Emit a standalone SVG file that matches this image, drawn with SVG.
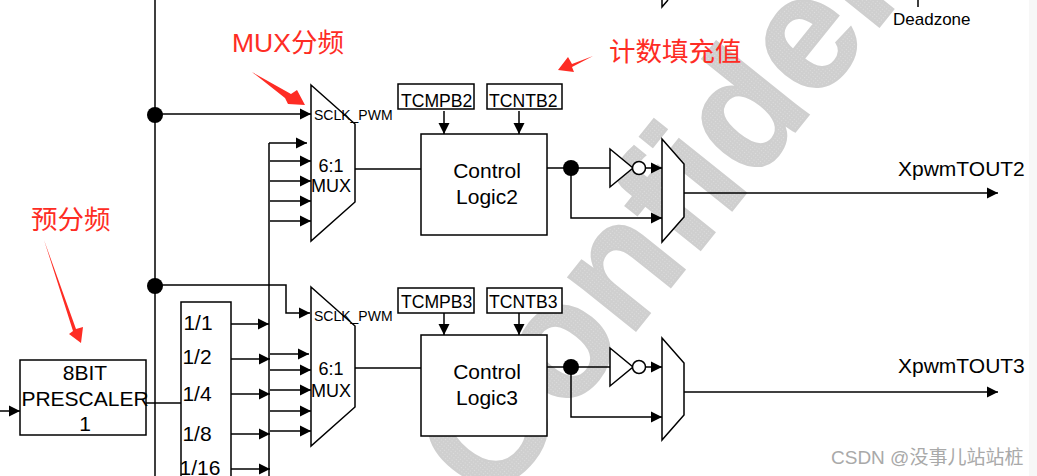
<svg xmlns="http://www.w3.org/2000/svg" width="1037" height="476" viewBox="0 0 1037 476">
<style>
text{font-family:"Liberation Sans","Noto Sans CJK SC",sans-serif;fill:#000}
.b{fill:#fff;stroke:#000;stroke-width:1.5}
.l{fill:none;stroke:#000;stroke-width:1.5}
.a{marker-end:url(#h)}
.d{fill:#000}
.m{font-size:21px;text-anchor:middle}
.s{font-size:17.6px}
.c{font-size:14px}
.r{fill:#fe2c24}
.rt{fill:#fe2c24;font-size:26.5px}
</style>
<defs>
<marker id="h" markerUnits="userSpaceOnUse" markerWidth="12" markerHeight="12" refX="11" refY="6" orient="auto"><path d="M0,0.5 L11,6 L0,11.5 Z" fill="#000"/></marker>
<pattern id="dither" patternUnits="userSpaceOnUse" width="3" height="3"><rect width="3" height="3" fill="#cfcfcf"/><rect width="1" height="1" fill="#dedede"/></pattern>
</defs>
<rect width="1037" height="476" fill="#fff"/>
<rect x="1029" y="0" width="8" height="476" fill="#f7f7f7"/>
<text id="watermark" transform="translate(493,509) rotate(-51.3)" style="font-size:163px;font-weight:bold;fill:url(#dither);stroke:#cfcfcf;stroke-width:2">Confidential</text>
<g id="connectors">
<path class="l" d="M155,0V476M269,143V476"/>
<path class="l a" d="M155,114H311"/>
<path class="l a" d="M269,143H307"/>
<path class="l a" d="M270,161H311"/>
<path class="l a" d="M270,181H311"/>
<path class="l a" d="M270,201H311"/>
<path class="l a" d="M270,221H311"/>
<path class="l a" d="M155,285H286V313H310"/>
<path class="l a" d="M270,354H309"/>
<path class="l a" d="M270,370H311"/>
<path class="l a" d="M270,390H311"/>
<path class="l a" d="M270,411H311"/>
<path class="l a" d="M270,431H311"/>
<path class="l a" d="M231,324H269"/>
<path class="l a" d="M231,359H270"/>
<path class="l a" d="M231,394H270"/>
<path class="l a" d="M231,434H270"/>
<path class="l a" d="M231,469H270"/>
<path class="l a" d="M0,411H20"/>
<path class="l" d="M146,403H181"/>
<path class="l" d="M355,169H421M355,368H421"/>
<path class="l a" d="M444,111V134"/>
<path class="l a" d="M519,111V134"/>
<path class="l a" d="M444,313V335"/>
<path class="l a" d="M519,313V335"/>
<path class="l" d="M547,168H610M547,367H610"/>
<path class="l a" d="M645,168H662"/>
<path class="l a" d="M645,367H662"/>
<path class="l a" d="M571,168V218H662"/>
<path class="l a" d="M571,367V417H662"/>
<path class="l a" d="M684,193H998"/>
<path class="l a" d="M684,392H998"/>
<path class="l" d="M918,0V7M662,0V7L668,0"/>
<circle class="d" cx="155" cy="115" r="8"/>
<circle class="d" cx="155" cy="286" r="8"/>
<circle class="d" cx="571" cy="168" r="8"/>
<circle class="d" cx="571" cy="367" r="8"/>
</g>
<g id="prescaler"><rect class="b" x="20" y="360" width="126" height="75"/><text class="m" x="85" y="380">8BIT</text><text class="m" x="85" y="406">PRESCALER</text><text class="m" x="85" y="431">1</text></g>
<g id="divider"><path class="b" d="M181,476V302H231V476"/><text class="m" x="198" y="330">1/1</text><text class="m" x="197" y="364">1/2</text><text class="m" x="197" y="401">1/4</text><text class="m" x="197" y="441">1/8</text><text class="m" x="200" y="475">1/16</text></g>
<g id="mux2"><path class="b" d="M311,85L355,124V202L311,241Z"/><text class="c" x="314" y="120">SCLK_PWM</text><text class="m" x="331" y="172" style="font-size:18px">6:1</text><text class="m" x="331" y="192" style="font-size:18px">MUX</text></g>
<g id="mux3"><path class="b" d="M311,287L355,326V407L311,446Z"/><text class="c" x="314" y="321">SCLK_PWM</text><text class="m" x="331" y="375" style="font-size:18px">6:1</text><text class="m" x="331" y="397" style="font-size:18px">MUX</text></g>
<g id="tcmpb2"><rect class="b" x="398" y="84" width="76" height="25"/><text class="s" x="401" y="107">TCMPB2</text></g>
<g id="tcntb2"><rect class="b" x="487" y="84" width="75" height="25"/><text class="s" x="489" y="107">TCNTB2</text></g>
<g id="tcmpb3"><rect class="b" x="398" y="288" width="76" height="25"/><text class="s" x="401" y="308">TCMPB3</text></g>
<g id="tcntb3"><rect class="b" x="487" y="288" width="75" height="25"/><text class="s" x="489" y="308">TCNTB3</text></g>
<g id="logic2"><rect class="b" x="421" y="134" width="126" height="101"/><text class="m" x="487" y="178">Control</text><text class="m" x="487" y="204">Logic2</text></g>
<g id="logic3"><rect class="b" x="421" y="335" width="126" height="101"/><text class="m" x="487" y="379">Control</text><text class="m" x="487" y="405">Logic3</text></g>
<g id="inv2"><path class="b" d="M610,149L633,168L610,187Z"/><circle class="b" cx="639" cy="168" r="6.5"/></g>
<g id="inv3"><path class="b" d="M610,348L633,367L610,386Z"/><circle class="b" cx="639" cy="367" r="6.5"/></g>
<g id="outmux2"><path class="b" d="M662,139L684,164V217L662,242Z"/></g>
<g id="outmux3"><path class="b" d="M662,338L684,363V415L662,440Z"/></g>
<text id="out2" x="898" y="176" style="font-size:21px">XpwmTOUT2</text>
<text id="out3" x="898" y="373" style="font-size:21px">XpwmTOUT3</text>
<text id="deadzone" x="893" y="25" style="font-size:17px">Deadzone</text>
<g id="annotations">
<path class="r" d="M252,72L291,94L297,90L305,105L288,104L285,98Z"/>
<path class="r" d="M593,56L572,64L568,57L558,70L574,72L572,67Z"/>
<path class="r" d="M44,240L76,329L83,327L81,343L69,334L73,331Z"/>
<text class="rt" x="232" y="52">MUX分频</text>
<text class="rt" x="31" y="229">预分频</text>
<text class="rt" x="609" y="61">计数填充值</text>
</g>
<text id="credit" x="831" y="464" style="font-size:19px;fill:#a9a9a9">CSDN @没事儿站站桩</text>
</svg>
